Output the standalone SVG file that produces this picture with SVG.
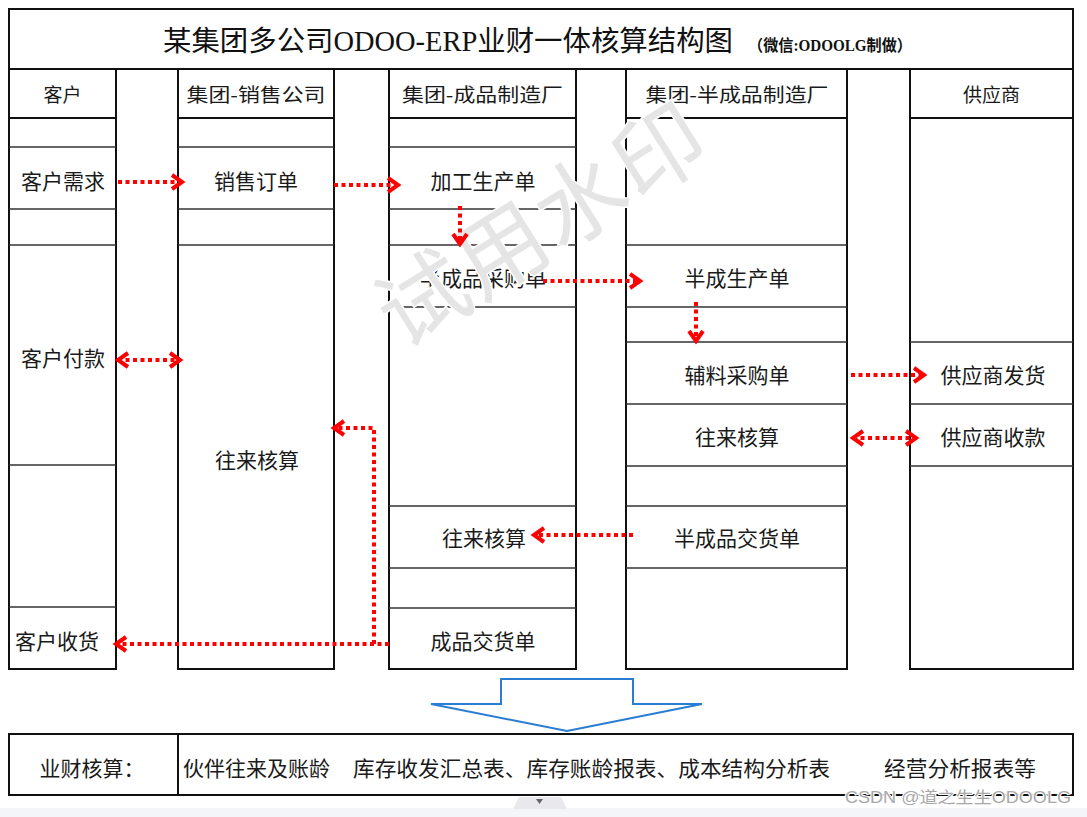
<svg xmlns="http://www.w3.org/2000/svg" width="1087" height="817" viewBox="0 0 1087 817">
<style>
.box{fill:#fff;stroke:#111;stroke-width:2}
.row{stroke:#333;stroke-width:1.4}
.hrow{stroke:#111;stroke-width:2}
.lbl{font-family:"Noto Sans CJK SC","Noto Sans",sans-serif;font-size:21px;fill:#1a1a1a;text-anchor:middle}
.hdr{font-size:19px}
.con{fill:none;stroke:#ff0000;stroke-width:4;stroke-dasharray:4 3.5}
</style>
<defs>
<marker id="ah" viewBox="0 0 20 20" refX="15" refY="10" markerWidth="20" markerHeight="20" markerUnits="userSpaceOnUse" orient="auto-start-reverse">
<path d="M5,3 L15,10 L5,17" fill="none" stroke="#ff0000" stroke-width="4"/>
</marker>
</defs>
<rect x="0" y="0" width="1087" height="817" fill="#fff"/>

<g id="title">
<rect class="box" x="9" y="9" width="1064" height="60"/>
<text x="163" y="51" font-family="'Liberation Serif','Noto Sans CJK SC',serif" font-size="28.5" fill="#111" textLength="570" lengthAdjust="spacingAndGlyphs">某集团多公司ODOO-ERP业财一体核算结构图</text>
<text x="748" y="51" font-family="'Liberation Serif','Noto Sans CJK SC',serif" font-size="16" font-weight="bold" fill="#111" textLength="164" lengthAdjust="spacingAndGlyphs">（微信:ODOOLG制做）</text>
</g>

<g id="col-customer">
<rect class="box" x="9" y="69" width="107" height="600"/>
<line class="hrow" x1="9" y1="118" x2="116" y2="118"/>
<line class="row" x1="9" y1="147" x2="116" y2="147"/>
<line class="row" x1="9" y1="209" x2="116" y2="209"/>
<line class="row" x1="9" y1="245" x2="116" y2="245"/>
<line class="row" x1="9" y1="465" x2="116" y2="465"/>
<line class="row" x1="9" y1="607" x2="116" y2="607"/>
<text class="lbl hdr" x="62.5" y="102">客户</text>
</g>
<g id="n-cust-demand"><text class="lbl" x="63" y="189">客户需求</text></g>
<g id="n-cust-pay"><text class="lbl" x="63" y="366">客户付款</text></g>
<g id="n-cust-recv"><text class="lbl" x="57" y="649">客户收货</text></g>

<g id="col-sales">
<rect class="box" x="178" y="69" width="156" height="600"/>
<line class="hrow" x1="178" y1="118" x2="334" y2="118"/>
<line class="row" x1="178" y1="147" x2="334" y2="147"/>
<line class="row" x1="178" y1="209" x2="334" y2="209"/>
<line class="row" x1="178" y1="245" x2="334" y2="245"/>
<text class="lbl hdr" x="256" y="102" textLength="139" lengthAdjust="spacingAndGlyphs">集团-销售公司</text>
</g>
<g id="n-sales-order"><text class="lbl" x="256" y="189">销售订单</text></g>
<g id="n-sales-ar"><text class="lbl" x="257" y="468">往来核算</text></g>

<g id="col-finished">
<rect class="box" x="389" y="69" width="187" height="600"/>
<line class="hrow" x1="389" y1="118" x2="576" y2="118"/>
<line class="row" x1="389" y1="147" x2="576" y2="147"/>
<line class="row" x1="389" y1="209" x2="576" y2="209"/>
<line class="row" x1="389" y1="245" x2="576" y2="245"/>
<line class="row" x1="389" y1="307" x2="576" y2="307"/>
<line class="row" x1="389" y1="506" x2="576" y2="506"/>
<line class="row" x1="389" y1="568" x2="576" y2="568"/>
<line class="row" x1="389" y1="608" x2="576" y2="608"/>
<text class="lbl hdr" x="482.5" y="102" textLength="161" lengthAdjust="spacingAndGlyphs">集团-成品制造厂</text>
</g>
<g id="n-work-order"><text class="lbl" x="483" y="189">加工生产单</text></g>
<g id="n-semi-po"><text class="lbl" x="483" y="286">半成品采购单</text></g>
<g id="n-fin-ar"><text class="lbl" x="484" y="546">往来核算</text></g>
<g id="n-fin-delivery"><text class="lbl" x="483" y="649">成品交货单</text></g>

<g id="col-semi">
<rect class="box" x="626" y="69" width="221" height="600"/>
<line class="hrow" x1="626" y1="118" x2="847" y2="118"/>
<line class="row" x1="626" y1="245" x2="847" y2="245"/>
<line class="row" x1="626" y1="307" x2="847" y2="307"/>
<line class="row" x1="626" y1="342" x2="847" y2="342"/>
<line class="row" x1="626" y1="404" x2="847" y2="404"/>
<line class="row" x1="626" y1="466" x2="847" y2="466"/>
<line class="row" x1="626" y1="506" x2="847" y2="506"/>
<line class="row" x1="626" y1="568" x2="847" y2="568"/>
<text class="lbl hdr" x="737" y="102" textLength="183" lengthAdjust="spacingAndGlyphs">集团-半成品制造厂</text>
</g>
<g id="n-semi-wo"><text class="lbl" x="737" y="286">半成生产单</text></g>
<g id="n-aux-po"><text class="lbl" x="737" y="383">辅料采购单</text></g>
<g id="n-semi-ar"><text class="lbl" x="737" y="445">往来核算</text></g>
<g id="n-semi-delivery"><text class="lbl" x="737" y="546">半成品交货单</text></g>

<g id="col-supplier">
<rect class="box" x="910" y="69" width="163" height="600"/>
<line class="hrow" x1="910" y1="118" x2="1073" y2="118"/>
<line class="row" x1="910" y1="342" x2="1073" y2="342"/>
<line class="row" x1="910" y1="404" x2="1073" y2="404"/>
<line class="row" x1="910" y1="466" x2="1073" y2="466"/>
<text class="lbl hdr" x="991.5" y="102">供应商</text>
</g>
<g id="n-sup-ship"><text class="lbl" x="993" y="383">供应商发货</text></g>
<g id="n-sup-recv"><text class="lbl" x="993" y="445">供应商收款</text></g>

<g id="watermark" transform="translate(542,224) rotate(-32)">
<text x="0" y="33" font-family="'Noto Sans CJK SC',sans-serif" font-weight="400" font-size="90" fill="#e5e5e5" stroke="#fff" stroke-width="3" paint-order="stroke" text-anchor="middle" letter-spacing="3">试用水印</text>
</g>

<g id="connectors">
<path class="con" d="M118,182 H182" marker-end="url(#ah)"/>
<path class="con" d="M334,185 H398" marker-end="url(#ah)"/>
<path class="con" d="M460,206 V244" marker-end="url(#ah)"/>
<path class="con" d="M543,281 H640" marker-end="url(#ah)"/>
<path class="con" d="M696,302 V341" marker-end="url(#ah)"/>
<path class="con" d="M851,375 H924" marker-end="url(#ah)"/>
<path class="con" d="M853,438 H916" marker-start="url(#ah)" marker-end="url(#ah)"/>
<path class="con" d="M633,535 H534" marker-end="url(#ah)"/>
<path class="con" d="M389,644 H116" marker-end="url(#ah)"/>
<path class="con" d="M374,644 V428 H334" marker-end="url(#ah)"/>
<path class="con" d="M118,360 H180" marker-start="url(#ah)" marker-end="url(#ah)"/>
</g>

<g id="down-arrow">
<polygon points="501,679 633,679 633,704 702,704 567,731 431,704 501,704" fill="#fff" stroke="#2b7cd3" stroke-width="2"/>
</g>

<g id="summary">
<rect class="box" x="9" y="734" width="1064" height="61"/>
<line x1="178" y1="734" x2="178" y2="795" stroke="#111" stroke-width="2"/>
<text class="lbl" x="92" y="776">业财核算：</text>
<text class="lbl" y="776" style="text-anchor:start"><tspan x="183">伙伴往来及账龄</tspan><tspan x="353" textLength="477" lengthAdjust="spacingAndGlyphs">库存收发汇总表、库存账龄报表、成本结构分析表</tspan></text>
<text class="lbl" x="884" y="776" style="text-anchor:start" textLength="152" lengthAdjust="spacingAndGlyphs">经营分析报表等</text>
</g>

<rect x="0" y="808" width="1087" height="9" fill="#f4f5f8"/>
<path d="M519,797 H561 L567,809 H513 Z" fill="#e9e9ed"/>
<path d="M536,799 H543 L539.5,804 Z" fill="#666"/>
<text x="1071" y="803" font-family="'Liberation Sans','Noto Sans CJK SC',sans-serif" font-size="16" fill="#a8a8a8" stroke="#fff" stroke-width="2" paint-order="stroke" text-anchor="end" textLength="226" lengthAdjust="spacingAndGlyphs">CSDN @道之生生ODOOLG</text>
</svg>
